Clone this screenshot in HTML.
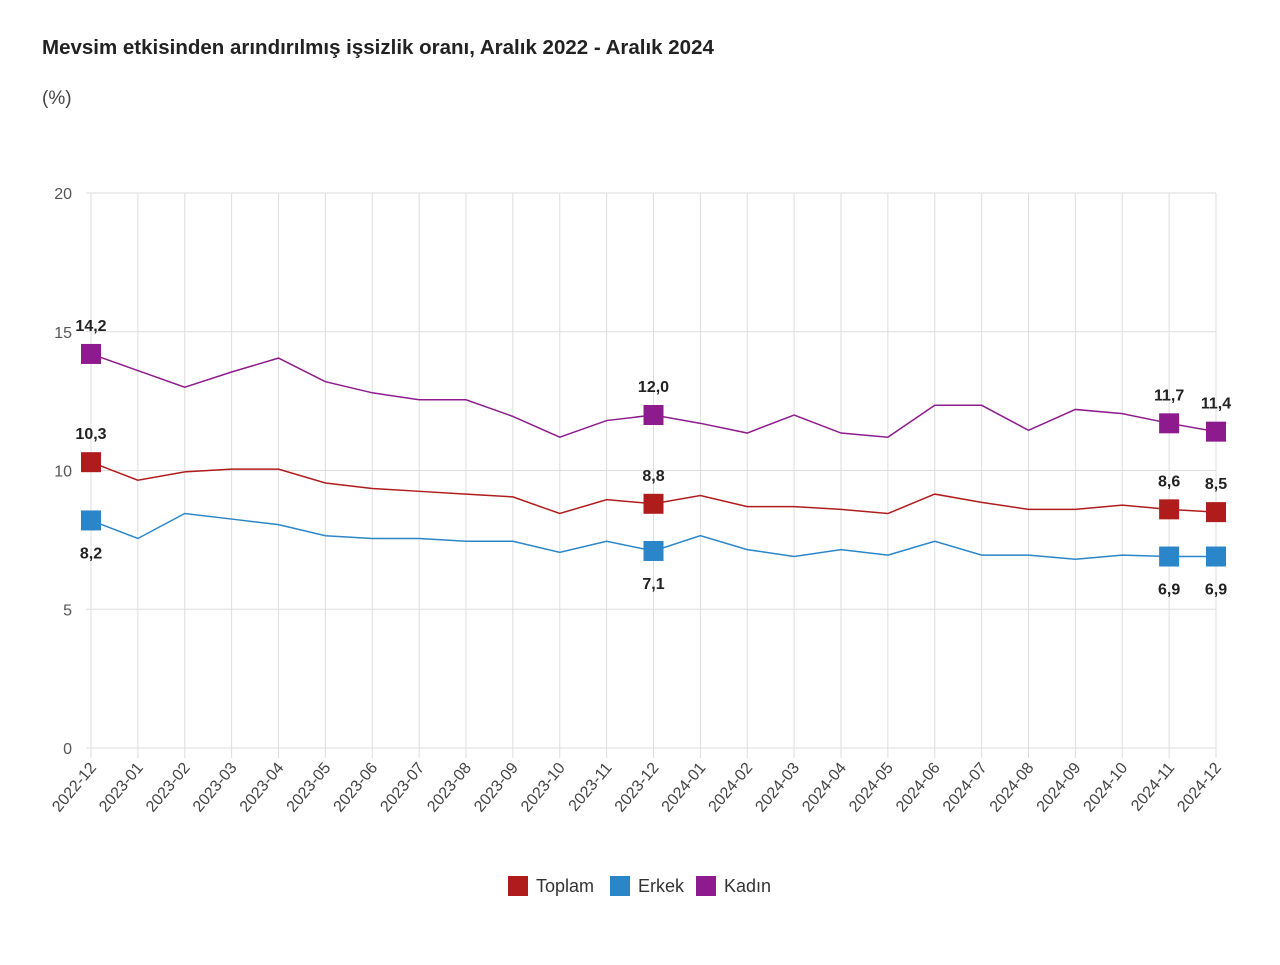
<!DOCTYPE html>
<html><head><meta charset="utf-8"><style>
body{margin:0;background:#fff;font-family:"Liberation Sans",sans-serif;}
</style></head><body>
<svg width="1280" height="960" xmlns="http://www.w3.org/2000/svg" id="svg">
<text x="42" y="54" font-size="20.5" font-weight="bold" fill="#222">Mevsim etkisinden arındırılmış işsizlik oranı, Aralık 2022 - Aralık 2024</text>
<text x="42" y="104" font-size="19" fill="#444">(%)</text>
<g id="grid"></g><g id="lines"></g><g id="marks"></g><g id="xl"></g>
<g>
<rect x="508" y="876" width="20" height="20" fill="#b01c1c"/>
<text x="536" y="892" font-size="18" fill="#333">Toplam</text>
<rect x="610" y="876" width="20" height="20" fill="#2a86c8"/>
<text x="638" y="892" font-size="18" fill="#333">Erkek</text>
<rect x="696" y="876" width="20" height="20" fill="#8e1b8e"/>
<text x="724" y="892" font-size="18" fill="#333">Kadın</text>
</g>
</svg>
<script>
const categories=["2022-12","2023-01","2023-02","2023-03","2023-04","2023-05","2023-06","2023-07","2023-08","2023-09","2023-10","2023-11","2023-12","2024-01","2024-02","2024-03","2024-04","2024-05","2024-06","2024-07","2024-08","2024-09","2024-10","2024-11","2024-12"];
const toplam=[10.3,9.65,9.95,10.05,10.05,9.55,9.35,9.25,9.15,9.05,8.45,8.95,8.8,9.1,8.7,8.7,8.6,8.45,9.15,8.85,8.6,8.6,8.75,8.6,8.5];
const erkek=[8.2,7.55,8.45,8.25,8.05,7.65,7.55,7.55,7.45,7.45,7.05,7.45,7.1,7.65,7.15,6.9,7.15,6.95,7.45,6.95,6.95,6.8,6.95,6.9,6.9];
const kadin=[14.2,13.6,13.0,13.55,14.05,13.2,12.8,12.55,12.55,11.95,11.2,11.8,12.0,11.7,11.35,12.0,11.35,11.2,12.35,12.35,11.45,12.2,12.05,11.7,11.4];
const yTicks=[0,5,10,15,20];
const markedIdx=[0,12,23,24];
const NS="http://www.w3.org/2000/svg";
const x=i=>91+i*(1216-91)/(categories.length-1);
const y=v=>748-v*27.75;
function el(t,a,p){const e=document.createElementNS(NS,t);for(const k in a)e.setAttribute(k,a[k]);document.getElementById(p).appendChild(e);return e;}
yTicks.forEach(t=>{
 const l=el("line",{x1:86,x2:1216,y1:y(t),y2:y(t),stroke:"#ddd"},"grid");
 
 
 const tx=el("text",{x:72,y:y(t)+6,"text-anchor":"end","font-size":16,fill:"#555"},"grid");
 tx.textContent=t;
 
 
});
categories.forEach((c,i)=>{
 const l=el("line",{x1:x(i),x2:x(i),y1:193,y2:758,stroke:"#ddd"},"grid");
 
 
 const tx=el("text",{x:0,y:0,"text-anchor":"end","font-size":16,fill:"#444",transform:`translate(${x(i)+6},${768}) rotate(-50)`},"xl");
 tx.textContent=c;
 
 
});
const series=[["toplam",toplam,"#b01c1c",-1],["erkek",erkek,"#2a86c8",1],["kadin",kadin,"#8e1b8e",-1]];
series.forEach(([n,d,col,dir])=>{
 const p=el("polyline",{points:d.map((v,i)=>x(i)+","+y(v)).join(" "),fill:"none",stroke:col,"stroke-width":1.5},"lines");
 
 
 markedIdx.forEach(i=>{
  const r=el("rect",{x:x(i)-10,y:y(d[i])-10,width:20,height:20,fill:col},"marks");
  
  
  const t=el("text",{x:x(i),y:dir<0?y(d[i])-23:y(d[i])+38,"text-anchor":"middle","font-size":16,"font-weight":"bold",fill:"#222"},"marks");
  t.textContent=d[i].toFixed(1).replace(".",",");
  
  
 });
});
</script>
</body></html>
